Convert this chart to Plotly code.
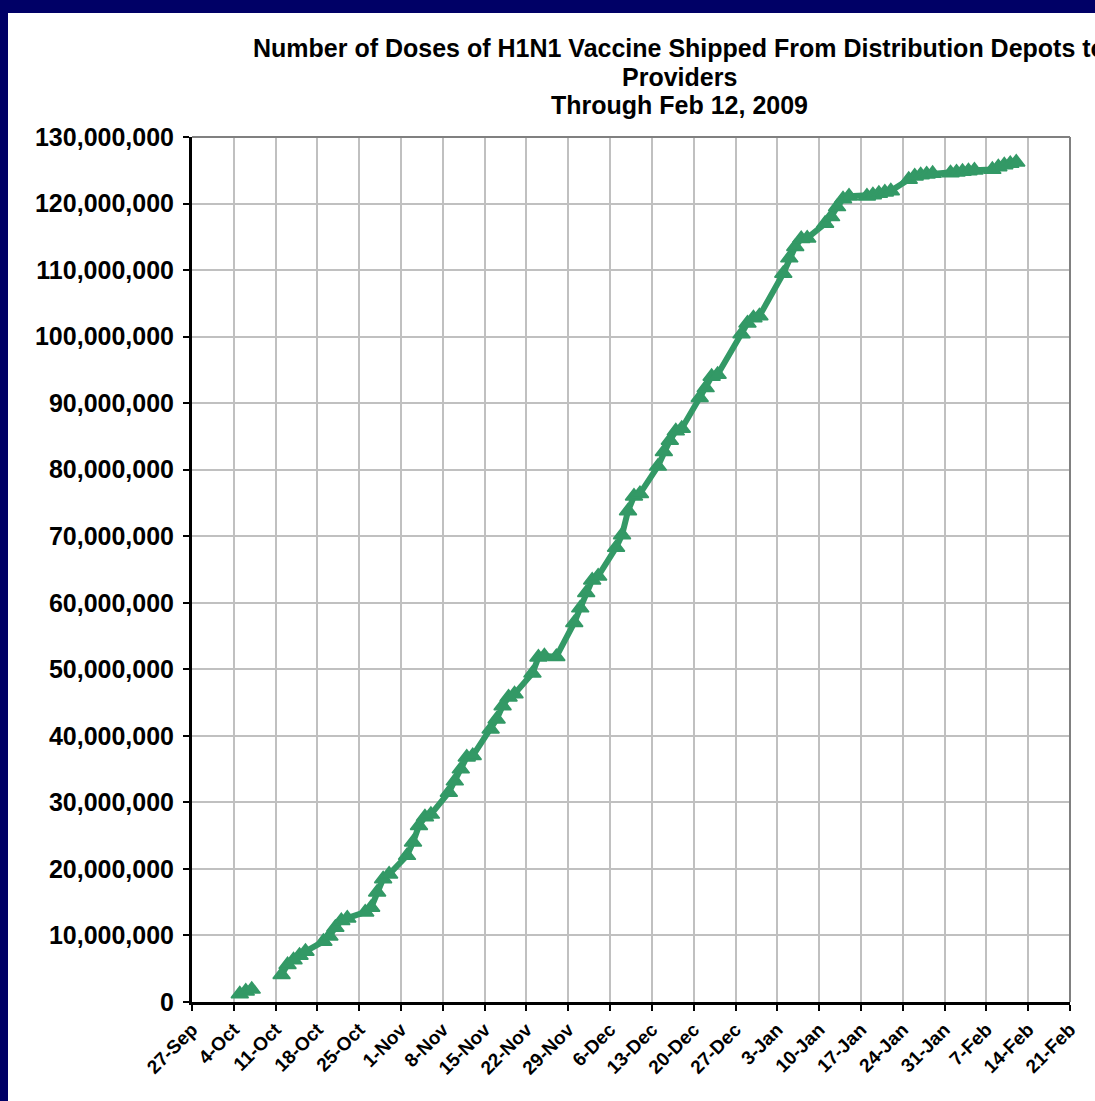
import plotly.graph_objects as go

# ---- data (values in doses) ----
dates = [
    "2009-10-05", "2009-10-06", "2009-10-07", "2009-10-09",
    "2009-10-12", "2009-10-13", "2009-10-14", "2009-10-15", "2009-10-16",
    "2009-10-19", "2009-10-20", "2009-10-21", "2009-10-22", "2009-10-23",
    "2009-10-26", "2009-10-27", "2009-10-28", "2009-10-29", "2009-10-30",
    "2009-11-02", "2009-11-03", "2009-11-04", "2009-11-05", "2009-11-06",
    "2009-11-09", "2009-11-10", "2009-11-11", "2009-11-12", "2009-11-13",
    "2009-11-16", "2009-11-17", "2009-11-18", "2009-11-19", "2009-11-20",
    "2009-11-23", "2009-11-24", "2009-11-25", "2009-11-27",
    "2009-11-30", "2009-12-01", "2009-12-02", "2009-12-03", "2009-12-04",
    "2009-12-07", "2009-12-08", "2009-12-09", "2009-12-10", "2009-12-11",
    "2009-12-14", "2009-12-15", "2009-12-16", "2009-12-17", "2009-12-18",
    "2009-12-21", "2009-12-22", "2009-12-23", "2009-12-24",
    "2009-12-28", "2009-12-29", "2009-12-30", "2009-12-31",
    "2010-01-04", "2010-01-05", "2010-01-06", "2010-01-07", "2010-01-08",
    "2010-01-11", "2010-01-12", "2010-01-13", "2010-01-14", "2010-01-15",
    "2010-01-18", "2010-01-19", "2010-01-20", "2010-01-21", "2010-01-22",
    "2010-01-25", "2010-01-26", "2010-01-27", "2010-01-28", "2010-01-29",
    "2010-02-01", "2010-02-02", "2010-02-03", "2010-02-04", "2010-02-05",
    "2010-02-08", "2010-02-09", "2010-02-10", "2010-02-11", "2010-02-12",
]
doses_millions = [
    1.2, 1.6, 1.9, None,
    4.1, 5.6, 6.3, 7.0, 7.6,
    9.1, 9.9, 11.2, 12.2, 12.6,
    13.5, 14.2, 16.5, 18.5, 19.2,
    22.0, 24.0, 26.5, 27.8, 28.2,
    31.5, 33.2, 35.0, 36.8, 37.0,
    41.0, 42.5, 44.5, 45.8, 46.3,
    49.4, 51.8, 52.0, 51.9,
    57.0, 59.2, 61.5, 63.4, 64.0,
    68.3, 70.2, 73.8, 76.0, 76.4,
    80.5, 82.7, 84.4, 85.8, 86.2,
    90.8, 92.3, 94.0, 94.3,
    100.4, 102.0, 102.8, 103.1,
    109.5, 111.8, 113.5, 114.7, 114.8,
    117.0, 118.0, 119.5, 120.7, 121.1,
    121.1, 121.3, 121.5, 121.7, 121.9,
    123.6, 124.1, 124.3, 124.4, 124.5,
    124.6, 124.7, 124.8, 124.9, 125.0,
    125.1, 125.5, 125.8, 126.0, 126.2,
]
doses = [None if v is None else v * 1e6 for v in doses_millions]

title_lines = [
    "Number of Doses of H1N1 Vaccine Shipped From Distribution Depots to",
    "Providers",
    "Through Feb 12, 2009",
]

GREEN = "#339966"
NAVY = "#000066"
FONT = "Liberation Sans, Arial, sans-serif"

fig = go.Figure()
fig.add_trace(go.Scatter(
    x=dates, y=doses, mode="lines+markers",
    line=dict(color=GREEN, width=6),
    marker=dict(symbol="triangle-up", size=15, color=GREEN,
                line=dict(color=GREEN, width=1.5)),
    connectgaps=False, showlegend=False,
))

W, H = 1095, 1101
L, R, T, B = 192, 25, 137, 99
pw, ph = W - L - R, H - T - B

def px(x):
    return (x - L) / pw

def py(y):
    return (H - B - y) / ph

shapes = [
    dict(type="line", xref="paper", yref="paper", x0=0, x1=1, y0=1, y1=1,
         line=dict(color="#808080", width=2), layer="above"),
    dict(type="line", xref="paper", yref="paper", x0=1, x1=1, y0=0, y1=1,
         line=dict(color="#808080", width=2), layer="above"),
    dict(type="rect", xref="paper", yref="paper", x0=px(0), x1=px(8),
         y0=py(H), y1=py(0), fillcolor=NAVY, line=dict(width=0), layer="above"),
    dict(type="rect", xref="paper", yref="paper", x0=px(0), x1=px(W),
         y0=py(13), y1=py(0), fillcolor=NAVY, line=dict(width=0), layer="above"),
]

title_centres = [48, 77, 105]
annotations = [
    dict(text="<b>" + t + "</b>", xref="paper", yref="paper",
         x=px(679.5), y=py(c), xanchor="center", yanchor="middle",
         showarrow=False, font=dict(family=FONT, size=25, color="black"))
    for t, c in zip(title_lines, title_centres)
]

fig.update_layout(
    width=W, height=H,
    margin=dict(l=L, r=R, t=T, b=B, autoexpand=False),
    paper_bgcolor="white", plot_bgcolor="white",
    font=dict(family=FONT, color="black"),
    shapes=shapes,
    annotations=annotations,
    xaxis=dict(
        type="date",
        range=["2009-09-27", "2010-02-21"],
        tick0="2009-09-27", dtick=7 * 24 * 3600 * 1000,
        tickformat="%-d-%b", tickangle=-45,
        tickfont=dict(family=FONT, size=19, color="black", weight="bold"),
        showgrid=True, gridcolor="#c0c0c0", gridwidth=1.5,
        showline=True, linecolor="black", linewidth=3,
        ticks="outside", ticklen=6, tickwidth=2, tickcolor="black",
        zeroline=False,
    ),
    yaxis=dict(
        range=[0, 130e6], dtick=10e6, tick0=0,
        tickformat=",d",
        tickfont=dict(family=FONT, size=25, color="black", weight="bold"),
        showgrid=True, gridcolor="#c0c0c0", gridwidth=1.5,
        showline=True, linecolor="black", linewidth=3,
        ticks="outside", ticklen=6, tickwidth=2, tickcolor="black",
        zeroline=False, ticklabelstandoff=4,
    ),
)

fig.write_html("out.html")
